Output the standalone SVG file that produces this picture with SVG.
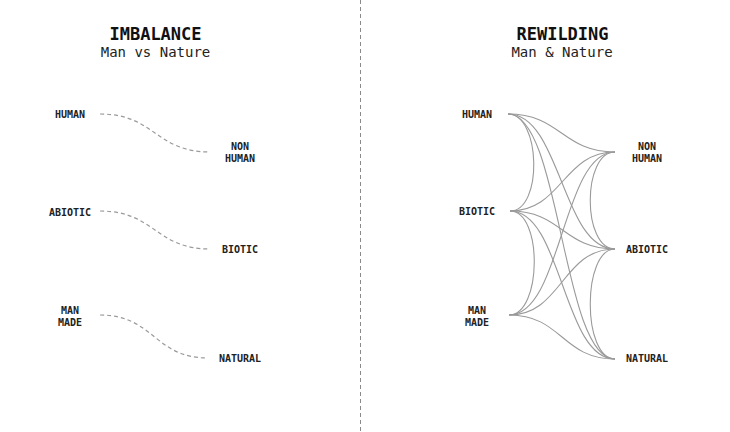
<svg xmlns="http://www.w3.org/2000/svg" width="730" height="432" viewBox="0 0 730 432">
<style>
.t{font-family:"DejaVu Sans Mono","Liberation Mono",monospace;font-weight:bold;font-size:17px;fill:#111;text-anchor:middle}
.s{font-family:"DejaVu Sans Mono","Liberation Mono",monospace;font-size:14px;fill:#222;text-anchor:middle}
.l{font-family:"DejaVu Sans Mono","Liberation Mono",monospace;font-weight:bold;font-size:10px;fill:#222;text-anchor:middle}
.d{fill:none;stroke:#9a9a9a;stroke-width:1.2;stroke-dasharray:4 3}
.c{fill:none;stroke:#9a9a9a;stroke-width:1.1}
.div{fill:none;stroke:#8a8a8a;stroke-width:1;stroke-dasharray:4 3}
</style>
<rect width="730" height="432" fill="#fff"/>
<line class="div" x1="360.5" y1="0" x2="360.5" y2="432"/>
<g id="title-left"><text class="t" x="155.5" y="40">IMBALANCE</text><text class="s" x="155.5" y="57">Man vs Nature</text></g>
<g id="title-right"><text class="t" x="562.5" y="40">REWILDING</text><text class="s" x="562" y="57">Man &amp; Nature</text></g>
<g id="connectors">
<path class="d" d="M100,114 C155,114 155,152 210,152"/>
<path class="d" d="M100,211 C155,211 155,249 210,249"/>
<path class="d" d="M100,315 C154,315 154,358 208,358"/>
<path class="c" d="M508,114 C541,114 543,211 510,211"/>
<path class="c" d="M510,211 C543,211 542,315 509,315"/>
<path class="c" d="M615,152 C582,152 582,249 615,249"/>
<path class="c" d="M615,249 C582,249 582,359 615,359"/>
<path class="c" d="M508,114 C561,114 562,152 615,152"/>
<path class="c" d="M508,114 C561,114 562,249 615,249"/>
<path class="c" d="M508,114 C561,114 562,359 615,359"/>
<path class="c" d="M510,211 C562,211 563,152 615,152"/>
<path class="c" d="M510,211 C562,211 563,249 615,249"/>
<path class="c" d="M510,211 C562,211 563,359 615,359"/>
<path class="c" d="M509,315 C562,315 562,152 615,152"/>
<path class="c" d="M509,315 C562,315 562,249 615,249"/>
<path class="c" d="M509,315 C562,315 562,359 615,359"/>
</g>
<g id="l-human"><text class="l" x="70" y="117.5">HUMAN</text></g>
<g id="l-nonhuman"><text class="l" x="240" y="149.5">NON</text><text class="l" x="240" y="161.5">HUMAN</text></g>
<g id="l-abiotic"><text class="l" x="70" y="215.5">ABIOTIC</text></g>
<g id="l-biotic"><text class="l" x="240" y="252.5">BIOTIC</text></g>
<g id="l-manmade"><text class="l" x="70" y="313.5">MAN</text><text class="l" x="70" y="325.5">MADE</text></g>
<g id="l-natural"><text class="l" x="240" y="362">NATURAL</text></g>
<g id="r-human"><text class="l" x="477" y="117.5">HUMAN</text></g>
<g id="r-nonhuman"><text class="l" x="647" y="149.5">NON</text><text class="l" x="647" y="161.5">HUMAN</text></g>
<g id="r-biotic"><text class="l" x="477" y="215">BIOTIC</text></g>
<g id="r-abiotic"><text class="l" x="647" y="252.5">ABIOTIC</text></g>
<g id="r-manmade"><text class="l" x="477" y="313.5">MAN</text><text class="l" x="477" y="325.5">MADE</text></g>
<g id="r-natural"><text class="l" x="647" y="362">NATURAL</text></g>
</svg>
